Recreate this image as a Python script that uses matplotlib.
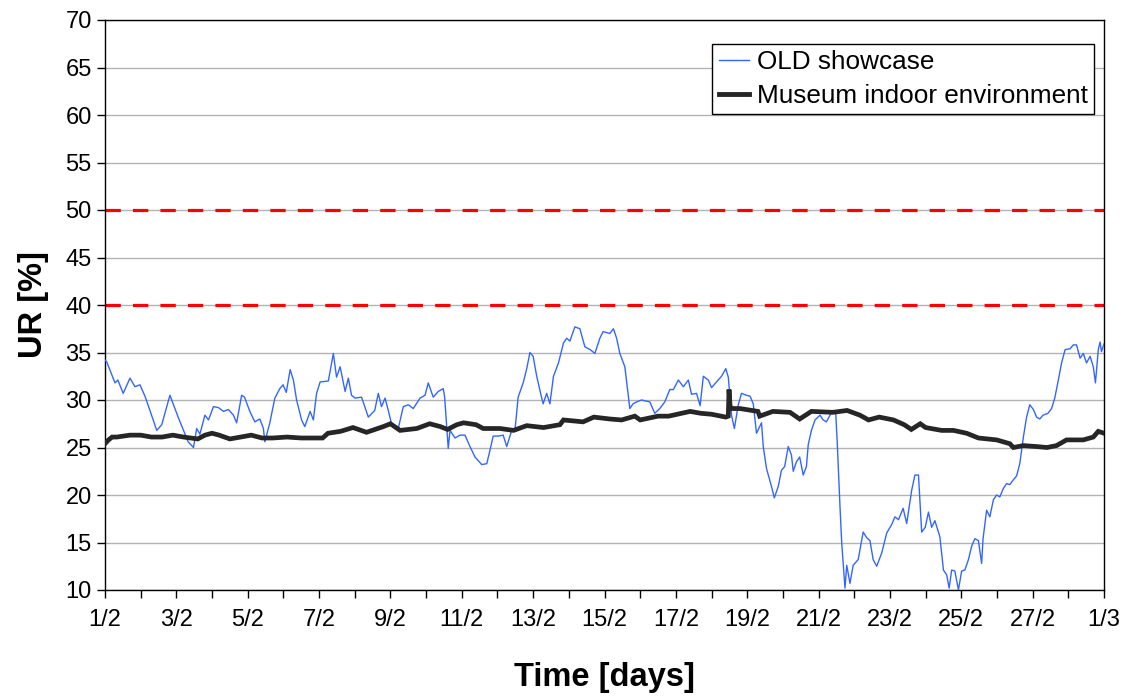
import matplotlib
matplotlib.use("Agg")
import matplotlib.pyplot as plt
import numpy as np

# ---- data (days since 1/2) ----
blue_days = [0.00, 0.05, 0.28, 0.36, 0.51, 0.70, 0.84, 0.98, 1.12, 1.26, 1.45, 1.59, 1.82, 1.87,
             2.05, 2.20, 2.33, 2.48, 2.57, 2.66, 2.80, 2.90, 3.04, 3.18, 3.32, 3.46, 3.60, 3.69,
             3.83, 3.91, 4.06, 4.20, 4.34, 4.44, 4.48, 4.62, 4.76, 4.90, 4.99, 5.08, 5.19, 5.28,
             5.37, 5.51, 5.60, 5.75, 5.84, 5.93, 6.03, 6.26, 6.40, 6.49, 6.59, 6.73, 6.82, 6.91,
             7.01, 7.19, 7.38, 7.56, 7.66, 7.75, 7.85, 7.94, 8.03, 8.22, 8.36, 8.50, 8.64, 8.83,
             8.97, 9.06, 9.20, 9.34, 9.48, 9.52, 9.62, 9.67, 9.81, 9.95, 10.09, 10.23, 10.37, 10.56,
             10.70, 10.79, 10.88, 11.02, 11.16, 11.26, 11.40, 11.49, 11.58, 11.72, 11.82, 11.91,
             12.00, 12.10, 12.24, 12.28, 12.38, 12.47, 12.57, 12.71, 12.85, 12.94, 13.03, 13.17,
             13.31, 13.45, 13.60, 13.73, 13.87, 13.96, 14.15, 14.25, 14.34, 14.43, 14.57, 14.71,
             14.80, 14.90, 15.04, 15.27, 15.41, 15.55, 15.69, 15.83, 15.93, 16.07, 16.21, 16.35,
             16.44, 16.58, 16.68, 16.77, 16.91, 17.00, 17.14, 17.28, 17.40, 17.47, 17.56, 17.64,
             17.75, 17.84, 17.98, 18.08, 18.17, 18.26, 18.40, 18.45, 18.54, 18.68, 18.76, 18.87,
             18.96, 19.05, 19.15, 19.24, 19.29, 19.38, 19.47, 19.57, 19.66, 19.71, 19.80, 19.90,
             20.04, 20.13, 20.22, 20.32, 20.41, 20.48, 20.52, 20.60, 20.65, 20.74, 20.79, 20.88,
             20.97, 21.11, 21.25, 21.35, 21.44, 21.53, 21.63, 21.77, 21.91, 22.05, 22.14, 22.24,
             22.37, 22.47, 22.61, 22.70, 22.80, 22.89, 22.99, 23.08, 23.17, 23.26, 23.40, 23.50,
             23.59, 23.66, 23.73, 23.82, 23.92, 24.01, 24.10, 24.20, 24.29, 24.38, 24.48, 24.57,
             24.61, 24.71, 24.80, 24.90, 24.99, 25.08, 25.18, 25.27, 25.36, 25.46, 25.55, 25.64,
             25.74, 25.83, 25.92, 26.02, 26.11, 26.20, 26.29, 26.43, 26.53, 26.62, 26.72, 26.81,
             26.91, 27.05, 27.14, 27.23, 27.33, 27.42, 27.51, 27.61, 27.70, 27.76, 27.84, 27.89,
             27.93, 28.00]
blue_vals = [34.2, 34.0, 31.8, 32.1, 30.7, 32.3, 31.4, 31.6, 30.4, 28.9, 26.8, 27.4, 30.5, 30.0,
             28.2, 26.8, 25.6, 25.0, 27.0, 26.4, 28.4, 27.9, 29.3, 29.2, 28.8, 29.0, 28.4, 27.6,
             30.5, 30.3, 28.8, 27.7, 28.0, 27.0, 25.6, 27.6, 30.2, 31.2, 31.6, 30.8, 33.2, 32.1,
             30.0, 27.9, 27.2, 28.8, 27.9, 30.7, 31.9, 32.0, 34.9, 32.4, 33.5, 30.9, 32.3, 30.5,
             30.2, 30.3, 28.2, 28.9, 30.7, 29.3, 30.2, 28.9, 27.5, 27.0, 29.3, 29.5, 29.1, 30.2,
             30.5, 31.8, 30.3, 30.9, 31.2, 30.3, 24.9, 26.8, 26.0, 26.3, 26.3, 25.1, 24.0, 23.2,
             23.3, 24.7, 26.2, 26.2, 26.3, 25.1, 26.8, 26.8, 30.3, 31.8, 33.3, 35.0,
             34.6, 32.5, 30.2, 29.6, 30.7, 29.6, 32.5, 33.9, 36.0, 36.5, 36.2, 37.7,
             37.5, 35.6, 35.3, 34.9, 36.5, 37.2, 37.0, 37.5, 36.5, 34.9, 33.5, 29.1,
             29.6, 29.8, 30.0, 29.8, 28.6, 29.1, 29.8, 31.1, 31.1, 32.1, 31.4, 32.1,
             30.6, 30.7, 29.4, 32.5, 32.1, 31.3, 31.9, 32.5, 33.3, 32.4, 28.4, 27.0,
             29.5, 30.7, 30.5, 30.4, 29.6, 26.5, 27.6, 25.1, 22.8, 20.9, 19.7, 20.9,
             22.6, 23.0, 25.1, 24.2, 22.5, 23.5, 24.0, 22.1, 23.0, 25.3, 26.8, 27.9,
             28.4, 27.9, 27.7, 28.4, 28.9, 28.7, 25.8, 18.8, 14.9, 10.2, 12.6, 10.7,
             12.6, 13.2, 16.1, 15.5, 15.2, 13.2, 12.5, 13.9, 16.0, 16.9, 17.7, 17.4,
             18.6, 17.0, 20.5, 22.1, 22.1, 16.1, 16.6, 18.2, 16.6, 17.3, 15.6, 12.1,
             11.6, 10.2, 12.1, 12.0, 10.0, 12.0, 12.1, 13.2, 14.6, 15.4, 15.2, 12.8,
             15.4, 18.4, 17.7, 19.5, 20.0, 19.8, 20.7, 21.2, 21.1, 21.6, 22.0, 23.3,
             26.1, 28.2, 29.5, 29.0, 28.2, 28.0, 28.4, 28.6, 29.1, 30.2, 32.1, 33.9,
             35.3, 35.4, 35.8, 35.8, 34.4, 34.9, 33.9, 34.6, 33.5, 31.8, 35.3, 36.1,
             35.1, 35.9]

black_days = [0.00, 0.10, 0.20, 0.33, 0.70, 1.00, 1.30, 1.60, 1.90, 2.20, 2.60, 2.80, 3.00, 3.20,
              3.50, 3.80, 4.10, 4.40, 4.70, 5.10, 5.50, 6.10, 6.25, 6.60, 6.95, 7.33, 7.80, 8.00,
              8.27, 8.74, 9.10, 9.40, 9.60, 9.86, 10.05, 10.40, 10.60, 11.07, 11.45, 11.82, 12.29,
              12.75, 12.85, 13.40, 13.70, 14.15, 14.48, 14.85, 15.00, 15.50, 15.80, 16.40, 16.70,
              17.00, 17.40, 17.47, 17.49, 17.52, 17.56, 17.80, 18.30, 18.35, 18.72, 19.20, 19.47,
              19.80, 20.40, 20.80, 21.16, 21.40, 21.70, 22.10, 22.40, 22.60, 22.85, 23.00, 23.45,
              23.78, 24.15, 24.48, 24.99, 25.36, 25.46, 25.74, 26.11, 26.40, 26.67, 26.95, 27.42,
              27.70, 27.84, 28.00]
black_vals = [25.4, 25.8, 26.1, 26.1, 26.3, 26.3, 26.1, 26.1, 26.3, 26.1, 25.9, 26.3, 26.5, 26.3,
              25.9, 26.1, 26.3, 26.0, 26.0, 26.1, 26.0, 26.0, 26.5, 26.7, 27.1, 26.6, 27.2, 27.5,
              26.8, 27.0, 27.5, 27.2, 26.9, 27.4, 27.6, 27.4, 27.0, 27.0, 26.8, 27.3, 27.1,
              27.4, 27.9, 27.7, 28.2, 28.0, 27.9, 28.3, 27.9, 28.3, 28.3, 28.8, 28.6,
              28.5, 28.2, 28.3, 31.1, 29.3, 29.1, 29.1, 28.8, 28.3, 28.8, 28.7, 28.0,
              28.8, 28.7, 28.9, 28.4, 27.9, 28.2, 27.9, 27.4, 26.9, 27.5, 27.1, 26.8,
              26.8, 26.5, 26.0, 25.8, 25.4, 25.0, 25.2, 25.1, 25.0, 25.2, 25.8, 25.8,
              26.1, 26.7, 26.5]

limit_levels = [40, 50]
tick_days = list(range(0, 29, 2))
tick_labels = ['1/2', '3/2', '5/2', '7/2', '9/2', '11/2', '13/2', '15/2', '17/2',
               '19/2', '21/2', '23/2', '25/2', '27/2', '1/3']
series_names = ['OLD showcase', 'Museum indoor environment']

plt.rcParams['font.family'] = ['Liberation Sans', 'DejaVu Sans']

fig = plt.figure(figsize=(11.29, 7.0), dpi=100)
ax = fig.add_axes([105 / 1129, 1 - 590 / 700, 999 / 1129, 570 / 700])

ax.set_xlim(0, 28)
ax.set_ylim(10, 70)
ax.set_yticks(np.arange(10, 71, 5))
ax.yaxis.grid(True, color='#b3b3b3', linewidth=1.0)
ax.set_axisbelow(True)

for lv in limit_levels:
    ax.axhline(lv, color='#ff0000', linewidth=2.3, dashes=(4.8, 3.8), zorder=2)

ax.plot(blue_days, blue_vals, color='#3366ff', linewidth=1.0, label=series_names[0], zorder=3)
ax.plot(black_days, black_vals, color='#262626', linewidth=3.4, label=series_names[1], zorder=4,
        solid_joinstyle='miter')

ax.set_xticks(tick_days)
ax.set_xticklabels(tick_labels)
ax.set_xticks(range(1, 28, 2), minor=True)
ax.tick_params(axis='both', which='both', direction='out', length=6, width=1, colors='black',
               labelsize=17)
ax.tick_params(axis='x', pad=8)
for sp in ax.spines.values():
    sp.set_color('black')
    sp.set_linewidth(1.0)

ax.set_xlabel('Time [days]', fontsize=23.5, fontweight='bold', labelpad=22)
ax.set_ylabel('UR [%]', fontsize=23.5, fontweight='bold', labelpad=12)

leg = ax.legend(loc='upper right', bbox_to_anchor=(0.99, 0.958), fontsize=18.8, frameon=True,
                fancybox=False, edgecolor='black', framealpha=1, handlelength=1.15,
                handletextpad=0.3, labelspacing=0.36, borderpad=0.25, borderaxespad=0)
leg.get_frame().set_linewidth(1.0)
leg.get_lines()[0].set_linewidth(1.0)
leg.get_lines()[1].set_linewidth(3.5)

fig.savefig('out.png', dpi=100)
